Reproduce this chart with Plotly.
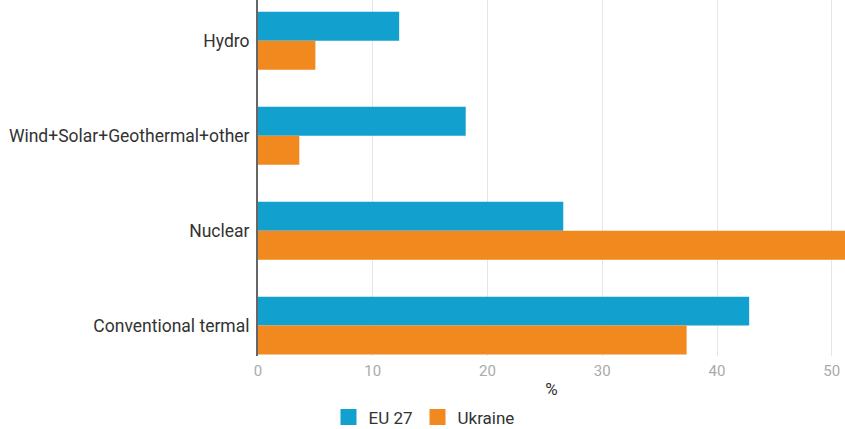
import plotly.graph_objects as go

categories = ["Hydro", "Wind+Solar+Geothermal+other", "Nuclear", "Conventional termal"]
eu27 = [12.3, 18.1, 26.6, 42.8]
ukraine = [5.0, 3.6, 54.0, 37.35]
x_ticks = [0, 10, 20, 30, 40, 50]
series_names = ["EU 27", "Ukraine"]
colors = ["#12a0cf", "#f1891f"]

fig = go.Figure()
for name, vals, col in zip(series_names, [eu27, ukraine], colors):
    fig.add_trace(go.Bar(y=categories, x=vals, name=name, orientation="h",
                         marker=dict(color=col, line=dict(width=0)), showlegend=False))
for name, col in zip(series_names, colors):
    fig.add_trace(go.Scatter(x=[None], y=[None], mode="markers", name=name,
                             marker=dict(symbol="square", size=17, color=col)))

fig.update_layout(
    width=845, height=429,
    margin=dict(l=258, r=0, t=0, b=73, autoexpand=False),
    paper_bgcolor="white", plot_bgcolor="white",
    barmode="group", bargap=0.39, bargroupgap=0,
    font=dict(family="Roboto", color="#333333"),
    legend=dict(orientation="h", x=424 / 845, xref="container", xanchor="center",
                yref="container", y=0.027, yanchor="middle",
                font=dict(size=17, color="#333333"), itemsizing="trace",
                traceorder="normal", itemwidth=30),
    xaxis=dict(range=[0, 51.15], tickvals=x_ticks, showgrid=True, gridcolor="#e6e6e6",
               gridwidth=1, zeroline=False, tickfont=dict(size=15, color="#aaaaaa"),
               title=dict(text="%", font=dict(size=17, color="#333333"), standoff=10),
               ticks="", automargin=False, ticklabelstandoff=4),
    yaxis=dict(categoryorder="array", categoryarray=categories,
               range=[3.32, -0.43], showline=True, linecolor="#666666", linewidth=2,
               showgrid=False, tickfont=dict(size=17.5, color="#333333"), ticks="",
               ticklabelstandoff=3, automargin=False),
)

fig.write_html("out.html")
